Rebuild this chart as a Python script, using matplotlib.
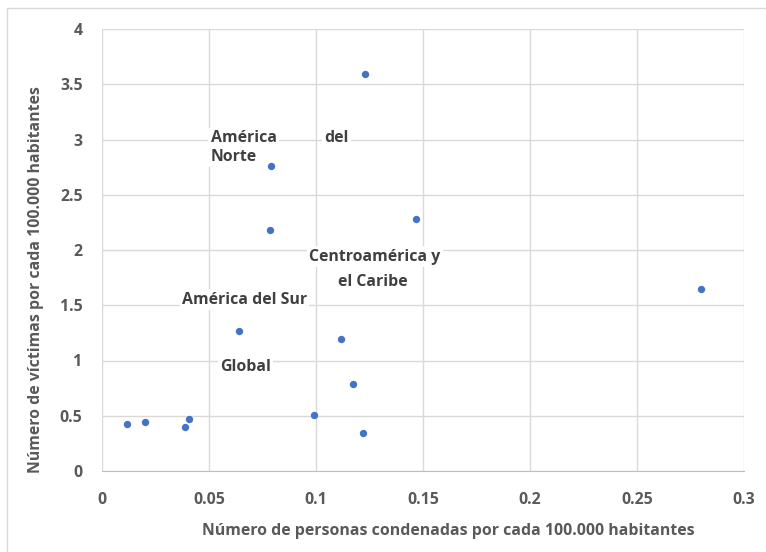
#!/usr/bin/env python3
# plot.py
#
# Scatter: convicted persons vs. victims per 100.000 inhabitants,
# with the regional labels placed inside the plot area.

import matplotlib.pyplot as plt
from matplotlib.patches import Rectangle

# data
x_condenadas = [0.0119, 0.0201, 0.0386, 0.0406, 0.0642, 0.0655, 0.0786,
                0.0792, 0.0989, 0.1119, 0.1173, 0.1221, 0.1230, 0.1467, 0.2800]
y_victimas = [0.424, 0.445, 0.400, 0.470, 1.270, 1.006, 2.180,
              2.762, 0.503, 1.197, 0.785, 0.341, 3.597, 2.280, 1.650]

x_ticks = [0, 0.05, 0.1, 0.15, 0.2, 0.25, 0.3]
x_ticklabels = ["0", "0.05", "0.1", "0.15", "0.2", "0.25", "0.3"]
y_ticks = [0, 0.5, 1, 1.5, 2, 2.5, 3, 3.5, 4]
y_ticklabels = ["0", "0.5", "1", "1.5", "2", "2.5", "3", "3.5", "4"]

# region labels: (text, x, y, horizontal alignment)
region_labels = [
    ("América", 0.0508, 3.013, "left"),
    ("del", 0.1040, 3.013, "left"),
    ("Norte", 0.0508, 2.842, "left"),
    ("Centroamérica y", 0.1276, 1.938, "center"),
    ("el Caribe", 0.1267, 1.712, "center"),
    ("América del Sur", 0.0666, 1.552, "center"),
    ("Global", 0.0670, 0.943, "center"),
]

xlabel = "Número de personas condenadas por cada 100.000 habitantes"
ylabel = "Número de víctimas por cada 100.000 habitantes"

TICK_COL = "#595959"
GRID_COL = "#D9D9D9"
LABEL_COL = "#404040"
FS = 11.4

plt.rcParams["font.family"] = ["Open Sans", "DejaVu Sans"]

fig = plt.figure(figsize=(7.66, 5.52), dpi=100)
ax = fig.add_axes([102 / 766, 1 - 471 / 552, 642 / 766, 442 / 552])

# chart border (only left/top visible in the cropped original)
fig.patches.append(Rectangle((7 / 766, -0.1), 1.2, 1 - 8 / 552 + 0.1,
                             transform=fig.transFigure, fill=False,
                             edgecolor=GRID_COL, linewidth=1.0))

ax.scatter(x_condenadas, y_victimas, s=28, color="#4472C4", zorder=3,
           linewidths=0)

ax.set_xlim(0, 0.3)
ax.set_ylim(0, 4)
ax.set_xticks(x_ticks)
ax.set_xticklabels(x_ticklabels)
ax.set_yticks(y_ticks)
ax.set_yticklabels(y_ticklabels)
ax.tick_params(axis="both", length=0, labelsize=FS, labelcolor=TICK_COL)
ax.tick_params(axis="x", pad=15)
ax.tick_params(axis="y", pad=14)
for lab in ax.get_xticklabels() + ax.get_yticklabels():
    lab.set_fontweight("bold")

ax.grid(True, color=GRID_COL, linewidth=1.0)
ax.set_axisbelow(True)
for sp in ax.spines.values():
    sp.set_visible(False)
ax.spines["bottom"].set_visible(True)
ax.spines["bottom"].set_color("#BFBFBF")

ax.set_xlabel(xlabel, fontsize=FS, fontweight="bold", color=TICK_COL)
ax.set_ylabel(ylabel, fontsize=FS, fontweight="bold", color=TICK_COL)
ax.xaxis.set_label_coords(0.539, -0.118)
ax.yaxis.set_label_coords(-0.09, 0.432)

for txt, tx, ty, ha in region_labels:
    ax.text(tx, ty, txt, ha=ha, va="center", fontsize=FS,
            fontweight="bold", color=LABEL_COL, zorder=4,
            bbox=dict(boxstyle="square,pad=0.15", facecolor="white",
                      edgecolor="none"))

fig.savefig("out.png", dpi=100)
